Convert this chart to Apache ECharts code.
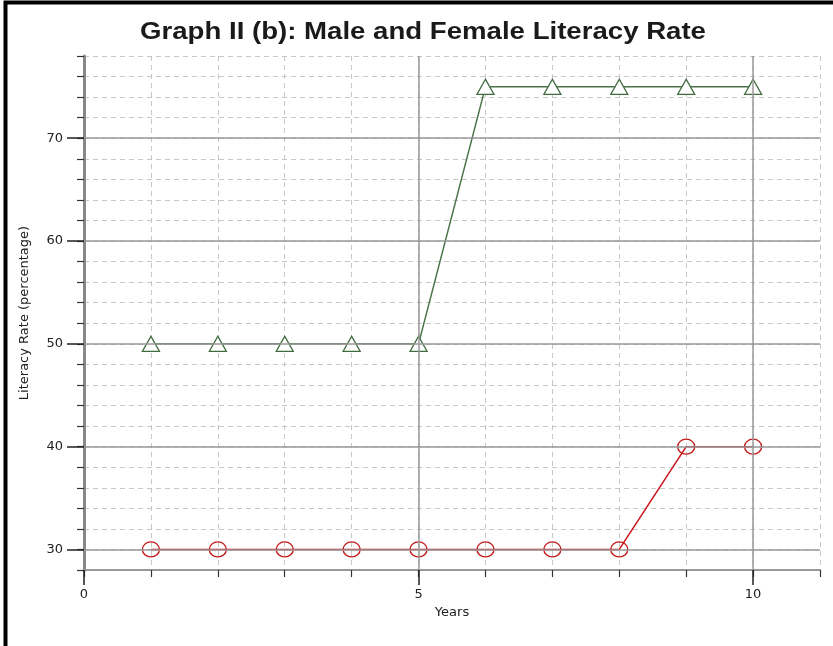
<!DOCTYPE html>
<html>
<head>
<meta charset="utf-8">
<script src="https://cdn.jsdelivr.net/npm/echarts@6/dist/echarts.min.js"></script>
<style>
  html, body { margin: 0; padding: 0; background: #fff; }
  #chart { width: 833px; height: 646px; }
</style>
</head>
<body>
<div id="chart"></div>
<script>
// chart data
const years = [1, 2, 3, 4, 5, 6, 7, 8, 9, 10];
const male_rate = [50, 50, 50, 50, 50, 75, 75, 75, 75, 75];
const female_rate = [30, 30, 30, 30, 30, 30, 30, 30, 40, 40];
const y_major = [30, 40, 50, 60, 70];
const x_major = [0, 5, 10];

function pairs(xs, ys) {
    return xs.map((x, i) => [x, ys[i]]);
}

document.addEventListener("DOMContentLoaded", function () {
    let chart = echarts.init(document.getElementById('chart'), null, { renderer: 'canvas' });

    // solid major grid lines
    let majorLines = [];
    y_major.forEach(v => majorLines.push({ yAxis: v }));
    x_major.filter(v => v > 0).forEach(v => majorLines.push({ xAxis: v }));

    const labelFont = { fontFamily: 'DejaVu Sans', fontSize: 13, color: '#222' };
    const dashed = { show: true, lineStyle: { color: '#c8c8c8', type: [5, 4], width: 1 } };

    let option = {
        backgroundColor: '#fff',
        animation: false,
        grid: {
            left: 84,
            right: 13,
            top: 56,
            bottom: 76,
        },
        xAxis: [
            {
                // minor ticks + dashed grid
                type: 'value',
                min: 0,
                max: 11,
                interval: 1,
                axisLine: { show: true, onZero: false, lineStyle: { color: '#999', width: 2 } },
                axisTick: { show: true, length: 7, lineStyle: { color: '#333', width: 1.2 } },
                axisLabel: { show: false },
                splitLine: dashed,
            },
            {
                // major ticks + labels
                type: 'value',
                min: 0,
                max: 11,
                position: 'bottom',
                name: 'Years',
                nameLocation: 'middle',
                nameGap: 36,
                nameTextStyle: labelFont,
                axisLine: { show: false, onZero: false },
                axisTick: { show: true, length: 15, customValues: x_major, lineStyle: { color: '#222', width: 1.5 } },
                axisLabel: Object.assign({ customValues: x_major, margin: 18 }, labelFont),
                splitLine: { show: false },
            },
        ],
        yAxis: [
            {
                type: 'value',
                min: 28,
                max: 78,
                interval: 2,
                axisLine: { show: true, onZero: false, lineStyle: { color: '#888', width: 3 } },
                axisTick: { show: true, length: 7, lineStyle: { color: '#333', width: 1.2 } },
                axisLabel: { show: false },
                splitLine: dashed,
            },
            {
                type: 'value',
                min: 28,
                max: 78,
                position: 'left',
                name: 'Literacy Rate (percentage)',
                nameLocation: 'middle',
                nameGap: 53,
                nameRotate: 90,
                nameTextStyle: labelFont,
                axisLine: { show: false, onZero: false },
                axisTick: { show: true, length: 17, customValues: y_major, lineStyle: { color: '#222', width: 1.5 } },
                axisLabel: Object.assign({ customValues: y_major, margin: 21 }, labelFont),
                splitLine: { show: false },
            },
        ],
        series: [
            {
                type: 'line',
                name: 'grid-major',
                data: [],
                silent: true,
                markLine: {
                    silent: true,
                    symbol: 'none',
                    label: { show: false },
                    lineStyle: { color: '#999', type: 'solid', width: 1.5 },
                    data: majorLines,
                },
                z: 1,
            },
            {
                type: 'line',
                name: 'Male',
                data: pairs(years, male_rate),
                symbol: 'triangle',
                symbolSize: [17, 15],
                lineStyle: { color: '#4a734a', width: 1.5 },
                itemStyle: { color: '#fff', borderColor: '#3f6b3f', borderWidth: 1.3 },
                z: 3,
            },
            {
                type: 'line',
                name: 'Female',
                data: pairs(years, female_rate),
                symbol: 'circle',
                symbolSize: [17, 15],
                lineStyle: { color: '#c8141a', width: 1.5 },
                itemStyle: { color: 'rgba(255,255,255,0)', borderColor: '#c41a1a', borderWidth: 1.3 },
                z: 3,
            },
        ],
        graphic: [
            {
                // title, stretched a little wider as in the source picture
                type: 'text',
                x: 423,
                y: 33,
                scaleX: 1.2,
                style: {
                    text: 'Graph II (b): Male and Female Literacy Rate',
                    font: 'bold 23px "Liberation Sans"',
                    fill: '#1a1a1a',
                    align: 'center',
                    verticalAlign: 'middle',
                },
                silent: true,
            },
            {
                type: 'polyline',
                shape: { points: [[5.5, 700], [5.5, 2.5], [840, 2.5]] },
                style: { stroke: '#000', lineWidth: 4, fill: null },
                silent: true,
            },
        ],
    };
    chart.setOption(option);
});
</script>
</body>
</html>
